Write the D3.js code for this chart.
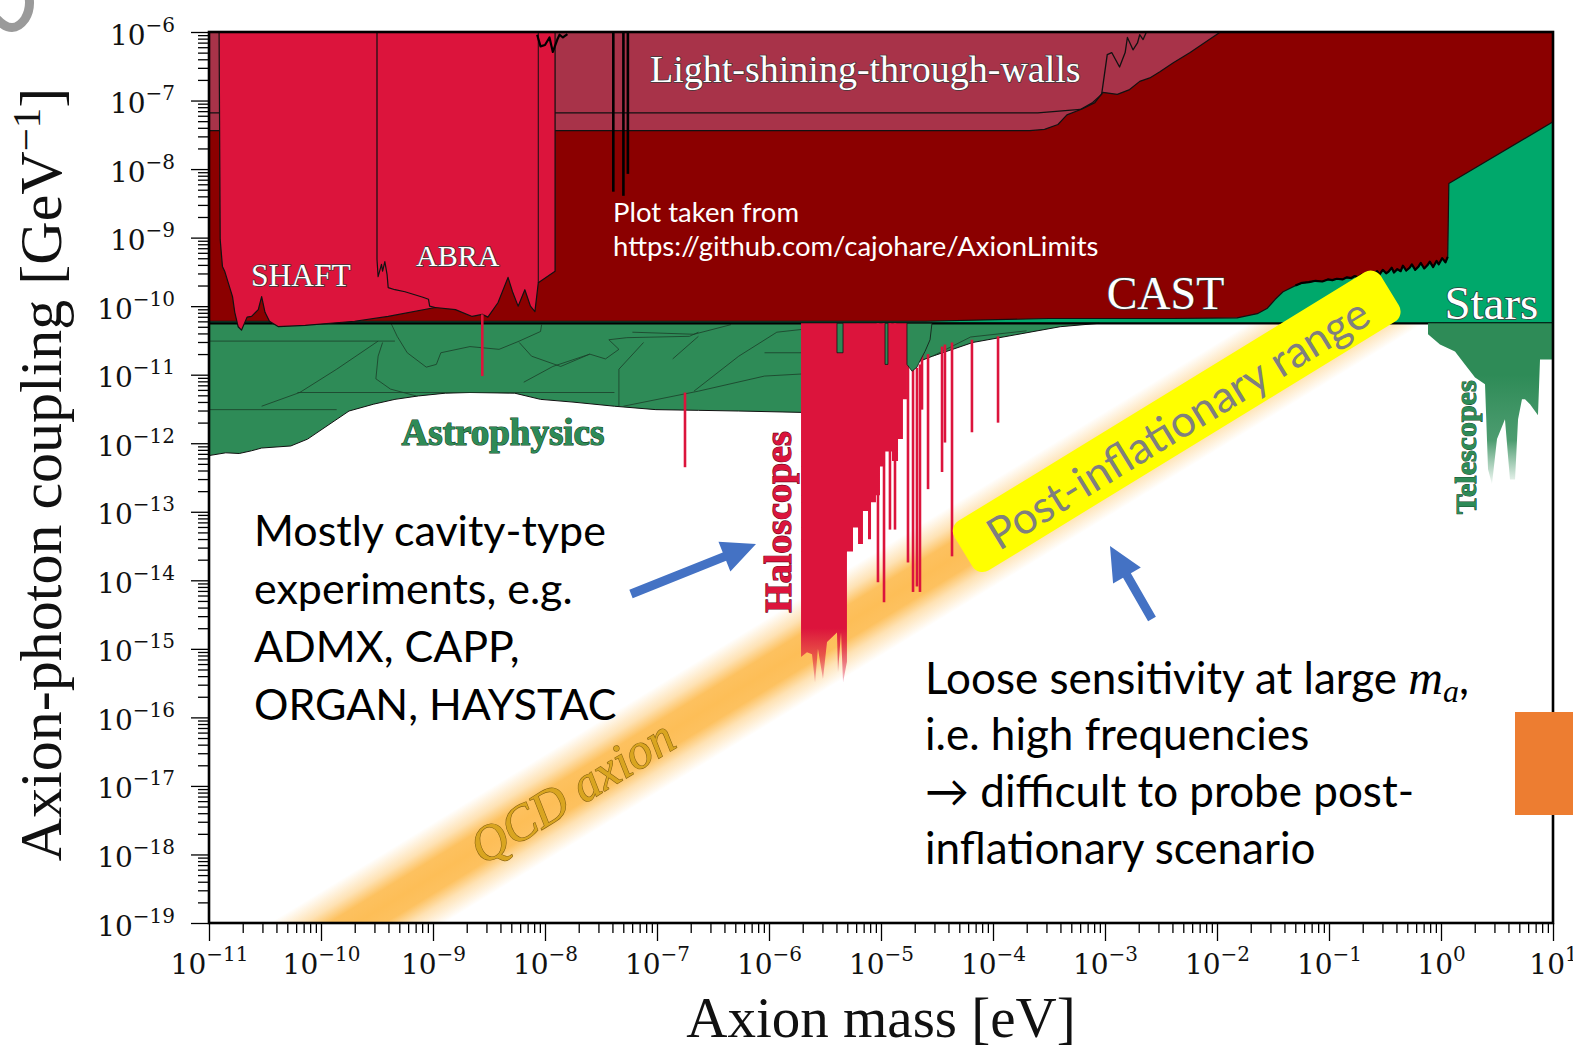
<!DOCTYPE html>
<html>
<head>
<meta charset="utf-8">
<title>Axion-photon coupling limits</title>
<script src="https://cdn.jsdelivr.net/npm/d3@7/dist/d3.min.js"></script>
<style>
  html, body { margin: 0; padding: 0; background: #fff; }
  svg { display: block; }
</style>
</head>
<body>
<svg id="chart" width="1573" height="1053"></svg>
<script>
// Every curve below is a list of [log10(mass / eV), log10(g / GeV^-1)] pairs.

const massExponents = [-11, -10, -9, -8, -7, -6, -5, -4, -3, -2, -1, 0, 1];
const couplingExponents = [-19, -18, -17, -16, -15, -14, -13, -12, -11, -10, -9, -8, -7, -6];
const minorMultipliers = [2, 3, 4, 5, 6, 7, 8, 9];

// horizontal-branch star bound
const hbLimit = [[-11, -10.25], [1, -10.25]];

// helioscope (CAST) excluded region
const castNoisyEdge = [
  [-1.30, -9.70], [-1.24, -9.66], [-1.18, -9.65], [-1.12, -9.63], [-1.06, -9.64], [-1.01, -9.61],
  [-0.97, -9.62], [-0.93, -9.60], [-0.88, -9.61], [-0.84, -9.58], [-0.80, -9.59], [-0.77, -9.56],
  [-0.74, -9.58], [-0.71, -9.54], [-0.68, -9.57], [-0.66, -9.51], [-0.63, -9.55], [-0.60, -9.53],
  [-0.57, -9.49], [-0.55, -9.54], [-0.52, -9.47], [-0.49, -9.52], [-0.47, -9.50], [-0.44, -9.44],
  [-0.42, -9.51], [-0.39, -9.46], [-0.36, -9.49], [-0.34, -9.41], [-0.31, -9.48], [-0.28, -9.44],
  [-0.26, -9.39], [-0.23, -9.47], [-0.20, -9.42], [-0.18, -9.37], [-0.15, -9.45], [-0.12, -9.40],
  [-0.10, -9.35], [-0.07, -9.43], [-0.04, -9.34], [-0.02, -9.39], [0.01, -9.30], [0.04, -9.36],
  [0.06, -9.28]
];
const castLimit = [
  [-11, -6], [-11, -10.22], [-4.6, -10.22], [-3.5, -10.18], [-2.4, -10.18], [-1.82, -10.17],
  [-1.64, -10.11], [-1.55, -10.03], [-1.48, -9.90], [-1.41, -9.79],
  ...castNoisyEdge,
  [0.07, -8.21], [1.0, -7.31], [1.0, -6]
];

// light-shining-through-walls
const lswLimit = [
  [-11, -6], [-11, -7.44], [-3.67, -7.44], [-3.54, -7.42], [-3.42, -7.35], [-3.34, -7.21],
  [-3.20, -7.12], [-3.09, -7.03], [-3.02, -6.88], [-2.89, -6.91], [-2.78, -6.84],
  [-2.69, -6.72], [-2.60, -6.67], [-2.51, -6.58], [-2.39, -6.45], [-2.24, -6.30], [-1.97, -6.0]
];
const lswInner = [
  [-11, -7.18], [-3.6, -7.18], [-3.22, -7.13], [-3.11, -7.03], [-3.03, -6.91], [-2.98, -6.33],
  [-2.94, -6.30], [-2.87, -6.51], [-2.82, -6.30], [-2.80, -6.08], [-2.75, -6.26],
  [-2.71, -6.16], [-2.69, -6.04], [-2.66, -6.11], [-2.63, -6.0]
];
const lswResonances = [[-7.39, -8.33], [-7.30, -8.39], [-7.26, -8.07]];

// low-mass lumped-element haloscopes (SHAFT, ABRA)
const lumpedLimit = [
  [-10.91, -6], [-10.90, -9.03], [-10.88, -9.42], [-10.86, -9.49], [-10.83, -9.65],
  [-10.79, -9.86], [-10.77, -10.09], [-10.74, -10.30], [-10.71, -10.35], [-10.66, -10.16],
  [-10.62, -10.15], [-10.56, -10.05], [-10.53, -9.86], [-10.50, -10.09], [-10.46, -10.22],
  [-10.38, -10.30], [-10.14, -10.28], [-9.70, -10.22], [-9.40, -10.15], [-8.98, -10.02],
  [-8.80, -10.05], [-8.65, -10.15], [-8.56, -10.12], [-8.51, -10.16], [-8.42, -9.95],
  [-8.33, -9.58], [-8.29, -9.79], [-8.24, -10.00], [-8.18, -9.76], [-8.13, -10.00],
  [-8.09, -10.08], [-8.06, -9.66], [-7.91, -9.49], [-7.91, -6]
];
const abraEdge = [
  [-9.50, -6], [-9.50, -9.32], [-9.49, -9.57], [-9.46, -9.39], [-9.45, -9.49], [-9.43, -9.35],
  [-9.41, -9.54], [-9.40, -9.73], [-9.34, -9.76], [-9.25, -9.79], [-9.09, -9.87],
  [-9.04, -9.90], [-9.03, -10.00], [-8.98, -10.02]
];
const abraRightEdge = [[-8.06, -6], [-8.06, -9.66]];
const slicEdge = [
  [-8.07, -6.04], [-8.04, -6.21], [-8.00, -6.19], [-7.96, -6.08], [-7.93, -6.29],
  [-7.89, -6.11], [-7.87, -6.04], [-7.84, -6.08], [-7.80, -6.03]
];

// astrophysical bounds
const astroLimit = [
  [-11, -10.25], [-3.05, -10.25], [-3.40, -10.30], [-4.18, -10.53], [-4.54, -10.73],
  [-4.79, -10.89], [-5.28, -11.29], [-5.71, -11.55], [-6.27, -11.53], [-6.63, -11.52],
  [-7.01, -11.51], [-7.38, -11.46], [-7.75, -11.40], [-8.04, -11.36], [-8.27, -11.27],
  [-8.67, -11.26], [-8.89, -11.27], [-9.13, -11.31], [-9.34, -11.36], [-9.53, -11.43],
  [-9.75, -11.53], [-10.12, -11.94], [-10.27, -12.04], [-10.53, -12.07], [-10.62, -12.11],
  [-10.73, -12.15], [-10.85, -12.14], [-11, -12.18]
];
const astroContours = [
  [[-10.99, -10.51], [-9.34, -10.51]],
  [[-10.21, -11.26], [-7.38, -11.26]],
  [[-10.99, -11.51], [-9.86, -11.51]],
  [[-9.375, -10.25], [-9.32, -10.44], [-9.23, -10.68], [-9.06, -10.89], [-8.97, -10.85],
   [-8.93, -10.68], [-8.67, -10.59], [-8.41, -10.63], [-8.23, -10.51], [-8.04, -10.37], [-8.03, -10.27]],
  [[-9.45, -10.53], [-9.49, -10.73], [-9.51, -11.06], [-9.38, -11.21], [-9.15, -11.31]],
  [[-10.53, -11.46], [-10.19, -11.26], [-9.86, -10.92], [-9.49, -10.51]],
  [[-8.23, -10.53], [-8.12, -10.73], [-7.86, -10.88], [-7.60, -10.70], [-7.46, -10.77],
   [-7.34, -10.63], [-7.43, -10.49], [-7.27, -10.46], [-6.71, -10.44], [-6.63, -10.38]],
  [[-8.19, -11.11], [-7.93, -10.88], [-7.60, -10.70]],
  [[-7.34, -11.46], [-7.34, -10.92], [-7.12, -10.53]],
  [[-7.30, -11.46], [-6.63, -11.24], [-6.04, -11.02], [-5.71, -10.99]],
  [[-6.67, -11.24], [-6.27, -10.73], [-5.93, -10.38], [-5.71, -10.34]],
  [[-6.04, -10.68], [-5.71, -10.68]],
  [[-7.22, -10.38], [-6.67, -10.41], [-6.34, -10.27]],
  [[-6.86, -10.77], [-6.63, -10.44]],
  [[-4.54, -10.73], [-4.20, -10.45], [-3.70, -10.36]]
];
const astroPatches = [
  [[-5.393, -10.25], [-5.393, -10.68], [-5.339, -10.68], [-5.339, -10.25]],
  [[-4.964, -10.25], [-4.964, -10.85], [-4.938, -10.85], [-4.938, -10.25]],
  [[-4.768, -10.25], [-4.768, -10.85], [-4.723, -10.95], [-4.679, -10.89], [-4.652, -10.80],
   [-4.607, -10.66], [-4.562, -10.49], [-4.545, -10.25]]
];

// cavity haloscopes
const haloscopeBlock = [
  [-5.714, -10.25], [-5.714, -15.12], [-5.661, -15.05], [-5.616, -15.08], [-5.589, -15.49],
  [-5.563, -15.00], [-5.518, -15.44], [-5.482, -14.90], [-5.393, -14.76], [-5.384, -15.34],
  [-5.357, -14.76], [-5.339, -15.49], [-5.304, -15.19], [-5.304, -13.58], [-5.25, -13.58],
  [-5.25, -13.23], [-5.205, -13.23], [-5.205, -13.47], [-5.161, -13.47], [-5.161, -12.99],
  [-5.116, -12.99], [-5.116, -13.40], [-5.089, -13.40], [-5.089, -12.86], [-5.045, -12.86],
  [-5.045, -12.76], [-5.009, -12.76], [-5.009, -12.34], [-4.964, -12.34], [-4.964, -12.12],
  [-4.902, -12.12], [-4.902, -12.26], [-4.848, -12.26], [-4.848, -11.94], [-4.804, -11.94],
  [-4.804, -11.36], [-4.768, -11.36], [-4.768, -10.25]
];
// narrow scans: [log10 mass, top, bottom]
const haloscopeLines = [
  [-5.027, -10.25, -14.03], [-4.973, -10.25, -14.32], [-4.920, -10.25, -13.26],
  [-4.875, -10.25, -13.26], [-4.759, -10.85, -13.74], [-4.714, -10.90, -14.17],
  [-4.679, -10.90, -14.09], [-4.652, -10.85, -14.17], [-4.634, -10.48, -11.51],
  [-4.580, -10.70, -12.67], [-4.455, -10.59, -12.42], [-4.429, -10.56, -11.99],
  [-4.366, -10.53, -13.65], [-4.188, -10.49, -11.84], [-3.955, -10.44, -11.70],
  [-8.56, -10.12, -11.02], [-6.75, -11.26, -12.35]
];

// telescope searches
const telescopeLimit = [
  [-0.116, -10.25], [-0.116, -10.41], [-0.009, -10.56], [0.125, -10.66], [0.214, -10.85],
  [0.304, -11.04], [0.393, -11.14], [0.42, -12.38], [0.455, -12.60], [0.50, -11.94],
  [0.571, -11.65], [0.616, -12.53], [0.661, -12.53], [0.688, -11.65], [0.723, -11.36],
  [0.75, -11.36], [0.795, -11.43], [0.866, -11.59], [0.884, -10.78], [1.0, -10.78], [1.0, -10.25]
];

// QCD axion band: centre line end points and half width (decades of mass)
const qcdCentre = [[-11.6, -20.92], [1.2, -8.12]];
const qcdHalfWidth = 0.78;
const qcdLabelMass = -7.76;
const postInflationMass = -2.36;

// ---------------------------------------------------------------------------
const svg = d3.select("#chart");
const plot = { left: 209, right: 1553, top: 32, bottom: 923 };
const x = d3.scaleLog().domain([1e-11, 1e1]).range([plot.left, plot.right]);
const y = d3.scaleLog().domain([1e-19, 1e-6]).range([plot.bottom, plot.top]);
const X = m => x(Math.pow(10, m));
const Y = g => y(Math.pow(10, g));
const line = d3.line().x(d => X(d[0])).y(d => Y(d[1]));
const shape = pts => line(pts) + "Z";

const SERIF = "'Liberation Serif', 'Times New Roman', serif";
const TICKFONT = "'DejaVu Serif', serif";
const SANS = "Lato, 'Open Sans', sans-serif";
const COL = {
  cast: "#8b0000", lsw: "#a83349", crimson: "#dc143c", astro: "#2e8b57",
  stars: "#00a86b", band: "#fdbe57", yellow: "#ffff00", arrow: "#4472c4"
};

const defs = svg.append("defs");
defs.append("clipPath").attr("id", "plotClip").append("rect")
  .attr("x", plot.left).attr("y", plot.top)
  .attr("width", plot.right - plot.left).attr("height", plot.bottom - plot.top);

// band geometry in pixels
const p0 = [X(qcdCentre[0][0]), Y(qcdCentre[0][1])];
const p1 = [X(qcdCentre[1][0]), Y(qcdCentre[1][1])];
const bandLen = Math.hypot(p1[0] - p0[0], p1[1] - p0[1]);
const u = [(p1[0] - p0[0]) / bandLen, (p1[1] - p0[1]) / bandLen];
const nrm = [-u[1], u[0]];
const bandAngle = Math.atan2(u[1], u[0]) * 180 / Math.PI;
const perpHalf = (X(qcdCentre[0][0] + qcdHalfWidth) - X(qcdCentre[0][0])) * Math.abs(u[1]);
const qcdOffset = qcdCentre[0][1] - qcdCentre[0][0];

const bandGrad = defs.append("linearGradient").attr("id", "bandGrad")
  .attr("gradientUnits", "userSpaceOnUse")
  .attr("x1", p0[0] - nrm[0] * perpHalf).attr("y1", p0[1] - nrm[1] * perpHalf)
  .attr("x2", p0[0] + nrm[0] * perpHalf).attr("y2", p0[1] + nrm[1] * perpHalf);
[[0, 0], [0.2, 0.45], [0.34, 0.95], [0.5, 1], [0.66, 0.95], [0.8, 0.45], [1, 0]].forEach(s =>
  bandGrad.append("stop").attr("offset", s[0]).attr("stop-color", COL.band).attr("stop-opacity", s[1]));

const haloGrad = defs.append("linearGradient").attr("id", "haloGrad")
  .attr("gradientUnits", "userSpaceOnUse")
  .attr("x1", 0).attr("y1", Y(-14.7)).attr("x2", 0).attr("y2", Y(-15.5));
haloGrad.append("stop").attr("offset", 0).attr("stop-color", COL.crimson).attr("stop-opacity", 1);
haloGrad.append("stop").attr("offset", 1).attr("stop-color", COL.crimson).attr("stop-opacity", 0.25);

const teleGrad = defs.append("linearGradient").attr("id", "teleGrad")
  .attr("gradientUnits", "userSpaceOnUse")
  .attr("x1", 0).attr("y1", Y(-11.0)).attr("x2", 0).attr("y2", Y(-12.6));
teleGrad.append("stop").attr("offset", 0).attr("stop-color", COL.astro).attr("stop-opacity", 1);
teleGrad.append("stop").attr("offset", 0.6).attr("stop-color", COL.astro).attr("stop-opacity", 0.85);
teleGrad.append("stop").attr("offset", 1).attr("stop-color", COL.astro).attr("stop-opacity", 0.05);

const layer = svg.append("g").attr("clip-path", "url(#plotClip)");
layer.append("rect").attr("x", plot.left).attr("y", plot.top)
  .attr("width", plot.right - plot.left).attr("height", plot.bottom - plot.top).attr("fill", "#fff");

// QCD band
const qb = qcdHalfWidth;
const bandPoly = [
  [qcdCentre[0][0] - qb, qcdCentre[0][1]], [qcdCentre[1][0] - qb, qcdCentre[1][1]],
  [qcdCentre[1][0] + qb, qcdCentre[1][1]], [qcdCentre[0][0] + qb, qcdCentre[0][1]]
];
layer.append("path").attr("d", shape(bandPoly)).attr("fill", "url(#bandGrad)");

// stellar bound (visible only where nothing else covers it)
layer.append("path").attr("d", shape([[-11, -6], [-11, -10.25], [1, -10.25], [1, -6]]))
  .attr("fill", COL.stars);

function region(pts, fill, sw) {
  return layer.append("path").attr("d", shape(pts)).attr("fill", fill)
    .attr("stroke", "#111").attr("stroke-width", sw || 1).attr("stroke-linejoin", "round");
}
function edge(pts, sw, col) {
  return layer.append("path").attr("d", line(pts)).attr("fill", "none")
    .attr("stroke", col || "#111").attr("stroke-width", sw || 1).attr("stroke-linejoin", "round");
}

region(castLimit, COL.cast, 1.2);
edge(castNoisyEdge, 2.2, "#000");
region(lswLimit, COL.lsw, 1.2);
edge(lswInner, 1.3);
lswResonances.forEach(r => edge([[r[0], -6], [r[0], r[1]]], 2.6, "#000"));

// astrophysics
region(astroLimit, COL.astro, 1);
astroContours.forEach(c => edge(c, 0.8, "#1a3d28"));

edge(hbLimit, 2.2, "#000");

region(lumpedLimit, COL.crimson, 1.2);
edge(abraEdge, 1.2);
edge(abraRightEdge, 1.0);
edge(slicEdge, 2.2, "#000");

// haloscopes
haloscopeLines.forEach(h =>
  layer.append("line").attr("x1", X(h[0])).attr("x2", X(h[0]))
    .attr("y1", Y(h[1])).attr("y2", Y(h[2]))
    .attr("stroke", COL.crimson).attr("stroke-width", 2.6));
layer.append("path").attr("d", shape(haloscopeBlock)).attr("fill", "url(#haloGrad)");
astroPatches.forEach(p => region(p, COL.astro, 0.8));

// telescopes
layer.append("path").attr("d", shape(telescopeLimit)).attr("fill", "url(#teleGrad)");

// ---------------------------------------------------------------------------
// region labels
function tag(txt, m, g, opt) {
  return svg.append("text")
    .attr("transform", `translate(${X(m)},${Y(g)}) rotate(${opt.rot || 0})`)
    .attr("text-anchor", "middle").attr("dominant-baseline", "central")
    .style("font-family", SERIF).style("font-size", opt.size + "px")
    .style("font-weight", opt.weight || "normal").style("font-style", opt.style || "normal")
    .attr("fill", opt.fill || "#fff").attr("stroke", opt.stroke || "#3a3a3a")
    .attr("stroke-width", opt.sw || 1.4).attr("paint-order", "stroke")
    .text(txt);
}
tag("Light-shining-through-walls", -5.14, -6.54, { size: 38 });
tag("SHAFT", -10.18, -9.55, { size: 31.5 });
tag("ABRA", -8.78, -9.26, { size: 30 });
tag("CAST", -2.46, -9.81, { size: 46 });
tag("Stars", 0.45, -9.95, { size: 47 });
tag("Astrophysics", -8.375, -11.84, { size: 37, weight: "bold", fill: COL.astro, stroke: "#16472b", sw: 1.2 });
tag("Haloscopes", -5.92, -13.15, { size: 38, weight: "bold", fill: COL.crimson, stroke: "#6e0a1e", sw: 1.2, rot: -90 });
tag("Telescopes", 0.223, -12.06, { size: 30, weight: "bold", fill: COL.astro, stroke: "#16472b", sw: 1, rot: -90 });
tag("QCD axion", qcdLabelMass, qcdLabelMass + qcdOffset,
  { size: 50, style: "italic", fill: "#d9a520", stroke: "#8a6410", sw: 1.2, rot: bandAngle });

// ---------------------------------------------------------------------------
// axes
const massMajor = massExponents.map(e => Math.pow(10, e));
const massMinor = [];
massExponents.slice(0, -1).forEach(e => minorMultipliers.forEach(k => massMinor.push(k * Math.pow(10, e))));
const couplingMajor = couplingExponents.map(e => Math.pow(10, e));
const couplingMinor = [];
couplingExponents.slice(0, -1).forEach(e => minorMultipliers.forEach(k => couplingMinor.push(k * Math.pow(10, e))));

const expText = e => (e < 0 ? "\u2212" + (-e) : String(e));
function styleTicks(g) {
  g.select(".domain").remove();
  g.selectAll(".tick line").attr("stroke", "#000").attr("stroke-width", 1.3);
}
function powerLabel(sel) {
  sel.attr("fill", "#111").style("font-family", TICKFONT).style("font-size", "28px")
    .each(function (d) {
      const e = Math.round(Math.log10(d));
      const t = d3.select(this);
      t.append("tspan").text("10");
      t.append("tspan").attr("dy", -13).style("font-size", "20px").text(expText(e));
    });
}

svg.append("g").attr("transform", `translate(0,${plot.bottom})`)
  .call(d3.axisBottom(x).tickValues(massMinor).tickSize(10).tickFormat(() => ""))
  .call(styleTicks);
const xMaj = svg.append("g").attr("transform", `translate(0,${plot.bottom})`)
  .call(d3.axisBottom(x).tickValues(massMajor).tickSize(18).tickFormat(() => ""))
  .call(styleTicks);
xMaj.selectAll(".tick text").attr("y", 51).attr("dy", null).call(powerLabel);

svg.append("g").attr("transform", `translate(${plot.left},0)`)
  .call(d3.axisLeft(y).tickValues(couplingMinor).tickSize(11).tickFormat(() => ""))
  .call(styleTicks);
const yMaj = svg.append("g").attr("transform", `translate(${plot.left},0)`)
  .call(d3.axisLeft(y).tickValues(couplingMajor).tickSize(18).tickFormat(() => ""))
  .call(styleTicks);
yMaj.selectAll(".tick text").attr("x", -34).attr("dy", 12).call(powerLabel);

svg.append("rect").attr("x", plot.left).attr("y", plot.top)
  .attr("width", plot.right - plot.left).attr("height", plot.bottom - plot.top)
  .attr("fill", "none").attr("stroke", "#000").attr("stroke-width", 2.6);

// axis titles
svg.append("text").attr("x", (plot.left + plot.right) / 2).attr("y", 1037)
  .attr("text-anchor", "middle").style("font-family", SERIF).style("font-size", "57px")
  .attr("fill", "#111").text("Axion mass [eV]");
const yt = svg.append("text").attr("transform", `translate(61,${(plot.top + plot.bottom) / 2 - 3}) rotate(-90)`)
  .attr("text-anchor", "middle").style("font-family", SERIF).style("font-size", "60px").attr("fill", "#111");
yt.append("tspan").text("Axion-photon coupling [GeV");
yt.append("tspan").attr("dy", -21).style("font-size", "41px").text("\u22121");
yt.append("tspan").attr("dy", 21).text("]");

// ---------------------------------------------------------------------------
// annotations
svg.append("path").attr("d", "M -3 19 Q 13 36 25 19 Q 31 9 29 -3")
  .attr("fill", "none").attr("stroke", "#9a9a9a").attr("stroke-width", 9);

const credit = svg.append("g").style("font-family", SANS).style("font-size", "27.5px").attr("fill", "#fff");
credit.append("text").attr("x", 613).attr("y", 222).text("Plot taken from");
credit.append("text").attr("x", 613).attr("y", 256).text("https://github.com/cajohare/AxionLimits");

const boxC = [X(postInflationMass), Y(postInflationMass + qcdOffset)];
const box = svg.append("g").attr("transform", `translate(${boxC[0]},${boxC[1]}) rotate(${bandAngle})`);
box.append("rect").attr("x", -250).attr("y", -29).attr("width", 500).attr("height", 58)
  .attr("rx", 12).attr("fill", COL.yellow);
box.append("text").attr("text-anchor", "middle").attr("dominant-baseline", "central")
  .attr("y", 1).style("font-family", SANS).style("font-size", "44px").attr("fill", "#7f7f7f")
  .text("Post-inflationary range");

const note1 = ["Mostly cavity-type", "experiments, e.g.", "ADMX, CAPP,", "ORGAN, HAYSTAC"];
svg.append("g").selectAll("text").data(note1).join("text")
  .attr("x", 254).attr("y", (d, i) => 546 + i * 58)
  .style("font-family", SANS).style("font-size", "43px").attr("fill", "#000").text(d => d);

const note2 = svg.append("g").style("font-family", SANS).style("font-size", "44px").attr("fill", "#000");
const l1 = note2.append("text").attr("x", 925).attr("y", 694);
l1.append("tspan").text("Loose sensitivity at large ");
l1.append("tspan").style("font-family", SERIF).style("font-style", "italic").style("font-size", "48px").text("m");
l1.append("tspan").attr("dy", 8).style("font-family", SERIF).style("font-style", "italic").style("font-size", "32px").text("a");
l1.append("tspan").attr("dy", -8).text(",");
["i.e. high frequencies", "\u2192 difficult to probe post-", "inflationary scenario"].forEach((s, i) =>
  note2.append("text").attr("x", 925).attr("y", 750 + i * 57).text(s));

function arrowShape(x1, y1, x2, y2, shaft, headW, headL) {
  const L = Math.hypot(x2 - x1, y2 - y1), ux = (x2 - x1) / L, uy = (y2 - y1) / L, nx = -uy, ny = ux;
  const bx = x2 - ux * headL, by = y2 - uy * headL;
  const pts = [
    [x1 + nx * shaft / 2, y1 + ny * shaft / 2], [bx + nx * shaft / 2, by + ny * shaft / 2],
    [bx + nx * headW / 2, by + ny * headW / 2], [x2, y2],
    [bx - nx * headW / 2, by - ny * headW / 2], [bx - nx * shaft / 2, by - ny * shaft / 2],
    [x1 - nx * shaft / 2, y1 - ny * shaft / 2]
  ];
  return "M" + pts.map(p => p.join(",")).join("L") + "Z";
}
svg.append("path").attr("d", arrowShape(631, 594, 756, 544, 9, 32, 34)).attr("fill", COL.arrow);
svg.append("path").attr("d", arrowShape(1152, 619, 1110, 546, 9, 32, 34)).attr("fill", COL.arrow);

svg.append("rect").attr("x", 1515).attr("y", 712).attr("width", 60).attr("height", 103).attr("fill", "#ed7d31");
</script>
</body>
</html>
